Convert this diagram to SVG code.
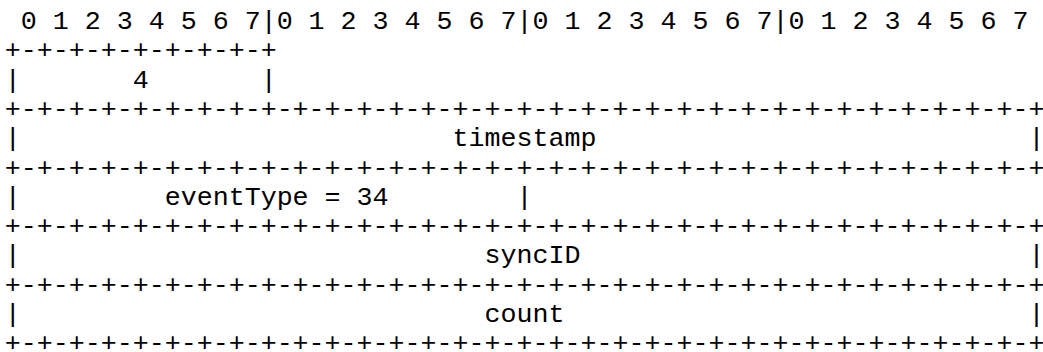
<svg xmlns="http://www.w3.org/2000/svg" width="1043" height="352" viewBox="0 0 1043 352">
<style>
text{font-family:"Liberation Mono","Courier New",monospace;font-size:26.667px;fill:#000;white-space:pre}
</style>
<rect width="1043" height="352" fill="#fff"/>
<g id="packet" xml:space="preserve">
<text x="4.7" y="29.0"> 0 1 2 3 4 5 6 7|0 1 2 3 4 5 6 7|0 1 2 3 4 5 6 7|0 1 2 3 4 5 6 7</text>
<text x="4.7" y="58.3">+-+-+-+-+-+-+-+-+</text>
<text x="4.7" y="87.6">|       4       |</text>
<text x="4.7" y="116.9">+-+-+-+-+-+-+-+-+-+-+-+-+-+-+-+-+-+-+-+-+-+-+-+-+-+-+-+-+-+-+-+-+</text>
<text x="4.7" y="146.2">|                           timestamp                           |</text>
<text x="4.7" y="175.5">+-+-+-+-+-+-+-+-+-+-+-+-+-+-+-+-+-+-+-+-+-+-+-+-+-+-+-+-+-+-+-+-+</text>
<text x="4.7" y="204.8">|         eventType = 34        |</text>
<text x="4.7" y="234.1">+-+-+-+-+-+-+-+-+-+-+-+-+-+-+-+-+-+-+-+-+-+-+-+-+-+-+-+-+-+-+-+-+</text>
<text x="4.7" y="263.4">|                             syncID                            |</text>
<text x="4.7" y="292.7">+-+-+-+-+-+-+-+-+-+-+-+-+-+-+-+-+-+-+-+-+-+-+-+-+-+-+-+-+-+-+-+-+</text>
<text x="4.7" y="322.0">|                             count                             |</text>
<text x="4.7" y="351.3">+-+-+-+-+-+-+-+-+-+-+-+-+-+-+-+-+-+-+-+-+-+-+-+-+-+-+-+-+-+-+-+-+</text>
</g>
</svg>
